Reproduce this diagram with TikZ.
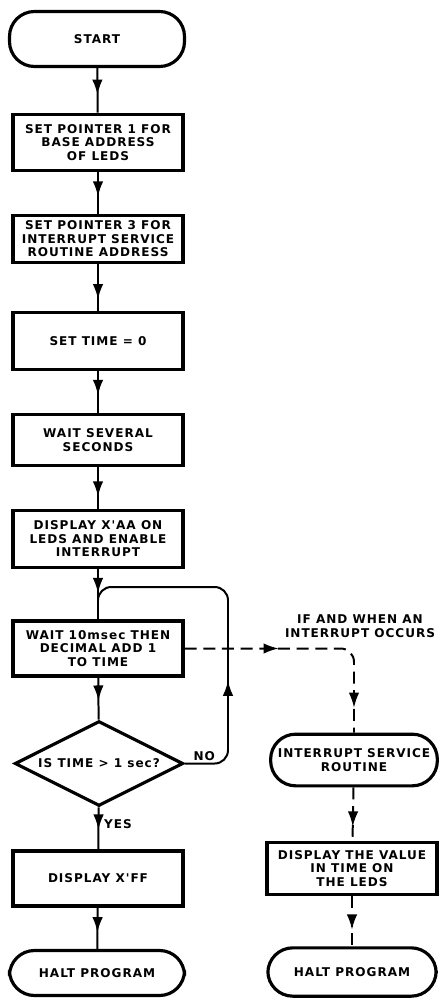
\documentclass[tikz,border=0pt]{standalone}
\usepackage{fontspec}
\setmainfont{DejaVu Sans}
\newfontfamily\flowfont[LetterSpace=8]{DejaVu Sans}
\usetikzlibrary{shapes.geometric, positioning, arrows.meta,
                decorations.markings}

\begin{document}
\begin{tikzpicture}[x=0.03cm, y=-0.03cm,
          term/.style={rectangle, rounded corners=0.75cm, draw,
                       line width=2.7pt, minimum width=5.25cm,
                       font=\flowfont\bfseries\fontsize{10.3}{11.5}\selectfont,
                       align=center},
          proc/.style={rectangle, draw, line width=2.7pt,
                       minimum width=5.1cm, inner sep=2pt,
                       font=\flowfont\bfseries\fontsize{10.3}{11.5}\selectfont,
                       align=center},
          test/.style={diamond, draw, line width=2.7pt, aspect=2,
                       inner sep=0pt, minimum width=5.05cm,
                       minimum height=2.55cm,
                       font=\flowfont\bfseries\fontsize{10.3}{11.5}\selectfont},
          lbl/.style={font=\flowfont\bfseries\fontsize{10.3}{11.5}\selectfont,
                      align=center, inner sep=2pt},
          flow/.style={line width=1.7pt, postaction={decorate},
                       decoration={markings, mark=at position #1 with
                       {\arrow{Latex[length=13pt, width=9pt]}}}},
          flow/.default=0.6,
          irq/.style={line width=1.7pt, dash pattern=on 0.36cm off 0.2cm,
                      postaction={decorate}},
          loopy/.style={rounded corners=0.4cm}
        ]
        \useasboundingbox (0,0) rectangle (438,999);

        % Main program
        \node[term, minimum height=1.65cm] (start) at (97, 39) {START};
        \node[proc, minimum height=1.7cm]  (ptr1) at (98, 142.5)
              {SET POINTER 1 FOR\\BASE ADDRESS\\OF LEDS};
        \node[proc, minimum height=1.4cm]  (ptr3) at (98, 239)
              {SET POINTER 3 FOR\\INTERRUPT SERVICE\\ROUTINE ADDRESS};
        \node[proc, minimum height=1.7cm]  (zero) at (98, 341)
              {SET TIME = 0};
        \node[proc, minimum height=1.55cm] (wait) at (98, 440)
              {WAIT SEVERAL\\SECONDS};
        \node[proc, minimum height=1.7cm]  (xaa)  at (98, 539)
              {DISPLAY X'AA ON\\LEDS AND ENABLE\\INTERRUPT};
        \node[proc, minimum height=1.65cm] (tick) at (98, 648.5)
              {WAIT 10msec THEN\\DECIMAL ADD 1\\TO TIME};
        \node[test] (sec) at (99, 763.5) {IS TIME > 1 sec?};
        \node[proc, minimum height=1.65cm] (xff)  at (98, 878.5)
              {DISPLAY X'FF};
        \node[term, minimum height=1.35cm] (halt) at (97, 973)
              {HALT PROGRAM};

        % Interrupt routine
        \node[lbl] (when) at (360, 626) {IF AND WHEN AN\\INTERRUPT OCCURS};
        \node[term, minimum height=1.55cm, minimum width=5cm] (isr)
              at (354, 760) {INTERRUPT SERVICE\\ROUTINE};
        \node[proc, minimum height=1.55cm] (show) at (352, 868.5)
              {DISPLAY THE VALUE\\IN TIME ON\\THE LEDS};
        \node[term, minimum height=1.45cm, minimum width=5.05cm] (ihalt)
              at (352, 972) {HALT PROGRAM};
        \coordinate (loop) at (228, 587);

        % Arrows
        \draw[flow=0.6]  (start) -- (ptr1);
        \draw[flow=0.58] (ptr1) -- (ptr3);
        \draw[flow=0.75] (ptr3) -- (zero);
        \draw[flow=0.58] (zero) -- (wait);
        \draw[flow=0.7]  (wait) -- (xaa);
        \draw[flow=0.48] (xaa)  -- (tick);
        \draw[flow=0.55] (tick) -- (sec);
        \draw[flow=0.53] (sec)  -- node[lbl, right, pos=0.4, xshift=2pt]{YES} (xff);
        \draw[flow=0.6]  (xff)  -- (halt);

        % Time loop
        \draw[flow=0.33, loopy] (sec.east)
              -- node[lbl, above, pos=0.45]{NO} (sec.east -| loop)
              -- (loop) -| (tick.north);

        % Interrupt path
        \draw[irq, loopy, decoration={markings,
              mark=at position 0.38 with {\arrow{Latex[length=13pt, width=9pt]}},
              mark=at position 0.9 with {\arrow{Latex[length=13pt, width=9pt]}}}]
              (tick.east) -| (isr.north);
        \draw[irq, decoration={markings,
              mark=at position 0.73 with {\arrow{Latex[length=13pt, width=9pt]}}}]
              (isr) -- (show);
        \draw[irq, decoration={markings,
              mark=at position 0.67 with {\arrow{Latex[length=13pt, width=9pt]}}}]
              (show) -- (ihalt);
      \end{tikzpicture}
\end{document}
